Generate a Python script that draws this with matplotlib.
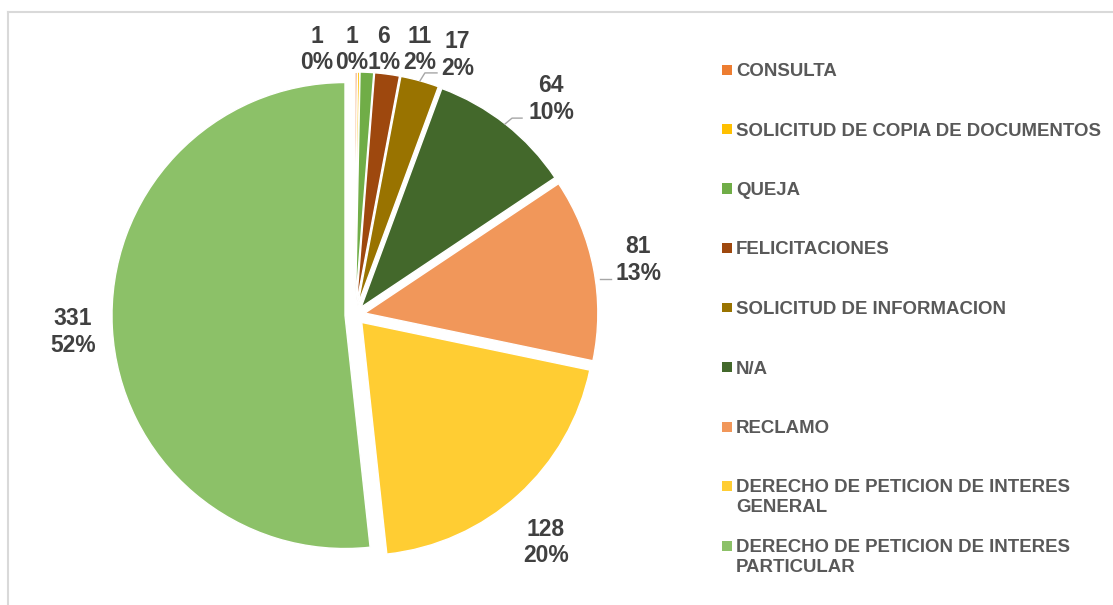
import numpy as np
import matplotlib
matplotlib.use("Agg")
from matplotlib import pyplot as plt
from matplotlib.lines import Line2D
from matplotlib.patches import Rectangle

plt.rcParams['font.family'] = ['Liberation Sans', 'DejaVu Sans']

#%% Data

categories = ["CONSULTA", "SOLICITUD DE COPIA DE DOCUMENTOS", "QUEJA", "FELICITACIONES",
              "SOLICITUD DE INFORMACION", "N/A", "RECLAMO",
              "DERECHO DE PETICION DE INTERES\nGENERAL",
              "DERECHO DE PETICION DE INTERES\nPARTICULAR"]
values = [1, 1, 6, 11, 17, 64, 81, 128, 331]
pct_labels = ["0%", "0%", "1%", "2%", "2%", "10%", "13%", "20%", "52%"]
colors = ["#ED7D31", "#FFC000", "#70AD47", "#9E480E", "#997300",
          "#43682B", "#F1975A", "#FFCD33", "#8CC168"]

#%% Layout (label positions in pie data units, radius = 1)

label_xy = [(-0.165, 1.140), (-0.015, 1.140), (0.124, 1.140), (0.279, 1.140),
            (0.440, 1.117), (0.841, 0.926), (1.215, 0.235), (0.820, -0.976),
            (-1.210, -0.074)]
leaders = [
    [(0.279, 1.005), (0.300, 1.039), (0.352, 1.039)],
    [(0.644, 0.820), (0.674, 0.845), (0.717, 0.845)],
    [(1.052, 0.155), (1.099, 0.155)],
]

#%% Figure

fig = plt.figure(figsize=(11.13, 6.05), dpi=100)
ax = fig.add_axes([55 / 1113, 0, 600 / 1113, 1])

ax.pie(values, colors=colors, startangle=90, counterclock=False,
       explode=[0.043] * len(values),
       wedgeprops=dict(edgecolor="white", linewidth=1))
ax.set_xlim(-300 / 233, 300 / 233)
ax.set_ylim(-290 / 233, 315 / 233)

for v, p, (x, y) in zip(values, pct_labels, label_xy):
    ax.text(x, y, f"{v}\n{p}", ha="center", va="center", fontsize=16.5,
            fontweight="bold", color="#404040", linespacing=1.2)

for pts in leaders:
    xs, ys = zip(*pts)
    ax.plot(xs, ys, color="#A6A6A6", lw=1)

# legend drawn by hand so the marker sits on the first line
for i, (cat, col) in enumerate(zip(categories, colors)):
    ytop = 63 + i * 59.5
    fig.add_artist(Rectangle((722 / 1113, 1 - (ytop + 11.5) / 605), 10 / 1113, 10 / 605,
                             transform=fig.transFigure, facecolor=col, edgecolor="none"))
    fig.text(736 / 1113, 1 - ytop / 605, cat, ha="left", va="top", fontsize=13.4,
             fontweight="bold", color="#595959", linespacing=1.2)

# chart area border
fig.add_artist(Line2D([8 / 1113, 1], [593 / 605, 593 / 605], transform=fig.transFigure,
                      color="#D9D9D9", lw=1.5))
fig.add_artist(Line2D([8 / 1113, 8 / 1113], [0, 593 / 605], transform=fig.transFigure,
                      color="#D9D9D9", lw=1.5))

fig.savefig("out.png", dpi=100)
